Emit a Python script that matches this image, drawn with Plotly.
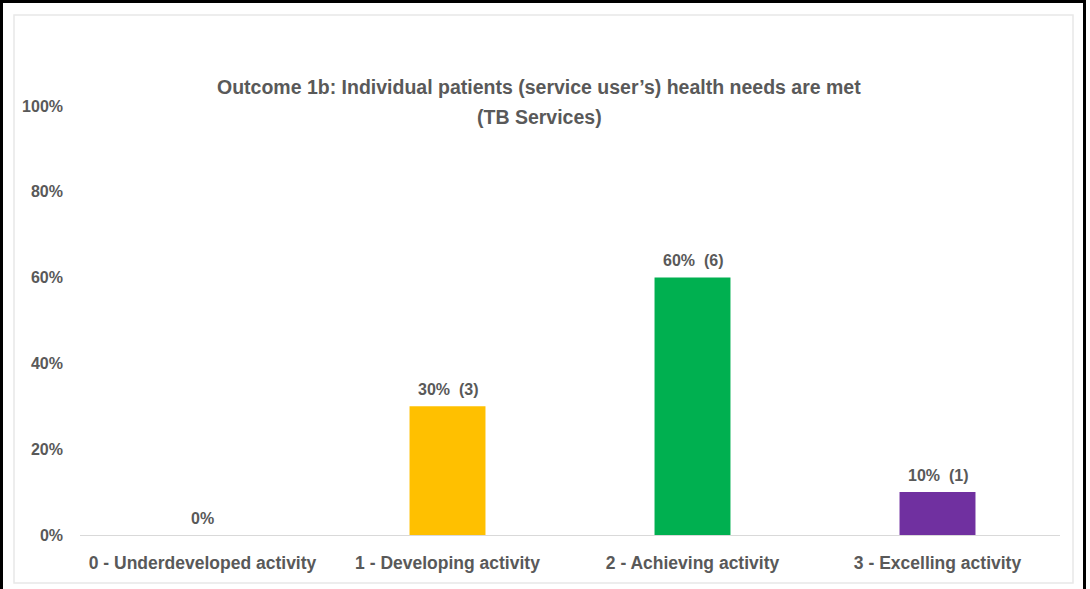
import plotly.graph_objects as go

categories = [
    "0 - Underdeveloped activity",
    "1 - Developing activity",
    "2 - Achieving activity",
    "3 - Excelling activity",
]
percentages = [0, 30, 60, 10]
counts = [0, 3, 6, 1]
colors = ["#FFC000", "#FFC000", "#00B050", "#7030A0"]
y_ticks = [0, 20, 40, 60, 80, 100]
y_tick_labels = [f"{v}%" for v in y_ticks]
title_lines = [
    "Outcome 1b: Individual patients (service user\u2019s) health needs are met",
    "(TB Services)",
]

labels = [f"{p}%" if n == 0 else f"{p}%  ({n})" for p, n in zip(percentages, counts)]

FONT = "Liberation Sans, Arial, sans-serif"
GREY = "#595959"

W, H = 1090, 589
L, R, T, B = 80, 30, 106, 54
pw, ph = W - L - R, H - T - B


def px_x(x):
    return (x - L) / pw


def px_y(y):
    return (H - B - y) / ph


fig = go.Figure(
    go.Bar(
        x=categories,
        y=percentages,
        marker=dict(color=colors, line=dict(width=0)),
        width=0.31,
        hoverinfo="x+y",
    )
)

annotations = [
    dict(x=c, y=p, xref="x", yref="y", text=t, showarrow=False,
         yanchor="middle", yshift=17,
         font=dict(family=FONT, size=16, color=GREY, weight="bold"))
    for c, p, t in zip(categories, percentages, labels)
]
# two-line chart title
for line, ypix in zip(title_lines, [87, 117]):
    annotations.append(
        dict(x=px_x(539), y=px_y(ypix), xref="paper", yref="paper", text=line,
             showarrow=False, xanchor="center", yanchor="middle",
             font=dict(family=FONT, size=19.5, color=GREY, weight="bold"))
    )

fig.update_layout(
    width=W,
    height=H,
    margin=dict(l=L, r=R, t=T, b=B),
    paper_bgcolor="white",
    plot_bgcolor="white",
    showlegend=False,
    annotations=annotations,
    xaxis=dict(
        showgrid=False,
        showline=True,
        linecolor="#D9D9D9",
        linewidth=1,
        ticks="",
        ticklabelstandoff=12,
        tickfont=dict(family=FONT, size=17.5, color=GREY, weight="bold"),
    ),
    yaxis=dict(
        range=[0, 100],
        tickvals=y_ticks,
        ticktext=y_tick_labels,
        showgrid=False,
        zeroline=False,
        showline=False,
        ticks="",
        ticklabelstandoff=16,
        tickfont=dict(family=FONT, size=16, color=GREY, weight="bold"),
    ),
    shapes=[
        # light inner frame of the chart area
        dict(type="rect", xref="paper", yref="paper",
             x0=px_x(14), x1=px_x(1073), y0=px_y(583), y1=px_y(15),
             line=dict(color="#E8E8E8", width=1.5), layer="below"),
        # heavy outer frame
        dict(type="line", xref="paper", yref="paper",
             x0=px_x(1.5), x1=px_x(1.5), y0=px_y(H + 5), y1=px_y(1.5),
             line=dict(color="black", width=3)),
        dict(type="line", xref="paper", yref="paper",
             x0=px_x(0), x1=px_x(1086), y0=px_y(1.5), y1=px_y(1.5),
             line=dict(color="black", width=3)),
        dict(type="line", xref="paper", yref="paper",
             x0=px_x(1084.5), x1=px_x(1084.5), y0=px_y(H + 5), y1=px_y(1.5),
             line=dict(color="black", width=3)),
    ],
)

fig.write_html("out.html")
